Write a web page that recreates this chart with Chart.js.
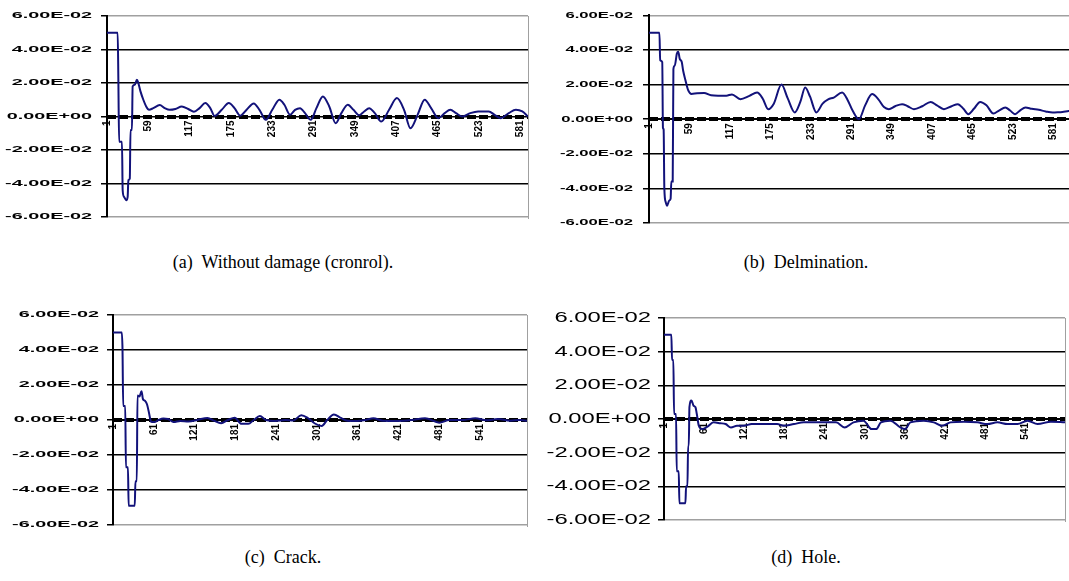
<!DOCTYPE html>
<html><head><meta charset="utf-8">
<script src="https://cdn.jsdelivr.net/npm/chart.js@4/dist/chart.umd.min.js"></script>
<style>
html,body{margin:0;padding:0;background:#fff;width:1069px;height:581px;overflow:hidden;position:relative}
canvas{position:absolute}
.cap{position:absolute;font-family:"Liberation Serif","Times New Roman",serif;font-size:18px;color:#000;white-space:pre;transform:translateX(-50%);line-height:20px}
</style></head><body>
<canvas id="ca" width="540" height="240" style="left:0;top:0"></canvas>
<canvas id="cb" width="545" height="240" style="left:540px;top:0"></canvas>
<canvas id="cc" width="540" height="250" style="left:0;top:290px"></canvas>
<canvas id="cd" width="529" height="250" style="left:540px;top:290px"></canvas>
<div class="cap" style="left:283px;top:252px">(a)  Without damage (cronrol).</div>
<div class="cap" style="left:806px;top:252px">(b)  Delmination.</div>
<div class="cap" style="left:283px;top:547px">(c)  Crack.</div>
<div class="cap" style="left:806px;top:547px">(d)  Hole.</div>
<script>
// ---- tick values and labels ----
const yTickValues = [-0.06, -0.04, -0.02, 0, 0.02, 0.04, 0.06];
const yTickLabels = ['-6.00E-02', '-4.00E-02', '-2.00E-02', '0.00E+00', '2.00E-02', '4.00E-02', '6.00E-02'];
const xTicksAB = [1, 59, 117, 175, 233, 291, 349, 407, 465, 523, 581];
const xTicksCD = [1, 61, 121, 181, 241, 301, 361, 421, 481, 541];

// ---- (a) Without damage ----
const aIdx = [1,16,17,18,22,23,25,28,30,31,33,34,36,37,40,43,45,48,52,56,60,66,75,82,89,97,106,115,123,131,139,146,152,162,172,180,188,197,207,215,224,233,243,250,258,265,272,279,287,295,304,313,322,330,339,347,355,362,369,377,386,397,408,418,427,437,447,456,466,475,483,491,500,511,522,530,537,545,554,565,575,584,592];
const aVal = [0.050,0.050,0.020,-0.015,-0.015,-0.044,-0.048,-0.050,-0.048,-0.038,-0.037,-0.008,-0.008,0.018,0.019,0.022,0.020,0.015,0.010,0.006,0.004,0.005,0.0068,0.005,0.004,0.0045,0.006,0.0045,0.0028,0.005,0.008,0.005,0.0003,0.004,0.008,0.005,0.0005,0.004,0.0078,0.004,-0.002,0.004,0.010,0.007,0.001,0.004,0.005,0.002,-0.002,0.005,0.012,0.006,-0.004,0.002,0.007,0.004,0.0008,0.003,0.005,0.002,-0.003,0.004,0.011,0.004,-0.007,0.001,0.010,0.005,-0.001,0.002,0.004,0.002,0.0,0.002,0.003,0.003,0.003,0.001,-0.001,0.002,0.004,0.003,0.0];

// ---- (b) Delmination ----
const bIdx = [1,16,17,20,21,22,23,25,27,30,32,33,35,36,38,41,43,45,48,50,53,57,62,70,80,90,100,112,120,132,145,156,164,172,180,191,200,210,218,225,232,241,250,258,266,278,286,293,302,311,321,330,338,345,354,364,372,381,393,405,414,424,435,444,452,459,467,476,485,495,503,512,519,526,533,541,550,560,570,580,587,594,603,612];
const bVal = [0.050,0.050,0.034,0.033,-0.005,-0.006,-0.040,-0.048,-0.050,-0.047,-0.046,-0.036,-0.036,0.029,0.031,0.038,0.039,0.035,0.033,0.028,0.023,0.017,0.0146,0.015,0.0152,0.0138,0.0136,0.0136,0.0143,0.0116,0.0135,0.0154,0.012,0.0058,0.009,0.020,0.012,0.0039,0.010,0.0183,0.013,0.0039,0.009,0.0115,0.0125,0.0154,0.011,0.005,0.0,0.008,0.0145,0.0115,0.007,0.0058,0.0075,0.0087,0.0075,0.0058,0.0075,0.010,0.008,0.0058,0.0075,0.0087,0.006,0.0029,0.006,0.010,0.008,0.0033,0.005,0.0068,0.005,0.0029,0.005,0.0068,0.006,0.0054,0.0045,0.0039,0.004,0.0042,0.0048,0.005];

// ---- (c) Crack ----
const cIdx = [1,14,15,16,19,20,23,24,33,34,36,37,40,43,45,48,51,54,57,62,68,75,82,90,100,112,125,140,150,160,170,180,190,200,208,217,226,240,255,266,278,288,298,308,316,326,336,346,360,372,384,398,420,440,460,481,496,515,534,550,567,585,600,610];
const cVal = [0.050,0.050,0.040,0.008,0.008,-0.027,-0.027,-0.049,-0.049,-0.035,-0.035,0.014,0.0135,0.0165,0.012,0.011,0.009,0.004,-0.001,-0.0012,0.0,0.0008,0.0006,-0.0012,-0.0005,-0.0008,0.0,0.0012,-0.0005,-0.0018,0.0,0.0013,-0.0022,-0.0022,0.0,0.0023,0.0,-0.0005,0.0,-0.0003,0.0027,0.001,-0.002,-0.0034,0.0,0.0032,0.0012,-0.0004,-0.0006,0.0,0.001,-0.0004,-0.0005,0.0,0.001,-0.0015,0.0,0.0,0.001,-0.0002,0.0006,-0.0004,0.0,-0.0004];

// ---- (d) Hole ----
const dIdx = [1,12,13,15,16,19,20,23,24,33,34,36,37,38,39,42,45,48,50,53,58,66,75,85,93,101,110,120,132,145,160,170,180,195,210,240,258,271,284,299,311,318,325,339,354,361,369,389,404,416,429,449,469,484,499,514,529,544,559,579,600];
const dVal = [0.050,0.050,0.035,0.035,0.003,0.003,-0.031,-0.031,-0.050,-0.050,-0.040,-0.040,-0.016,-0.016,0.007,0.011,0.008,0.007,0.003,-0.004,-0.006,-0.0045,-0.002,-0.0025,-0.003,-0.005,-0.004,-0.004,-0.003,-0.003,-0.003,-0.003,-0.004,-0.003,-0.002,-0.002,-0.002,-0.005,-0.002,-0.001,-0.006,-0.006,-0.002,-0.001,-0.005,-0.006,-0.002,-0.001,-0.002,-0.004,-0.002,-0.0016,-0.002,-0.003,-0.002,-0.003,-0.003,-0.001,-0.003,-0.0016,-0.002];

const LINE = '#12127a';

// stretches the y tick labels horizontally (the source figure has wide glyphs)
const stretchY = {
  id: 'stretchY',
  beforeDraw(chart, args, opts) {
    const s = chart.scales.y;
    if (!s || s.__stretched) return;
    const orig = s.drawLabels;
    s.drawLabels = function (area) {
      const ctx = this.ctx;
      const tl = this.options.grid.drawTicks ? this.options.grid.tickLength : 0;
      const ax = this.right - tl - this.options.ticks.padding;
      ctx.save();
      ctx.translate(ax, 0); ctx.scale(opts.sx, 1); ctx.translate(-ax, 0);
      orig.call(this, area);
      ctx.restore();
    };
    s.__stretched = true;
  }
};

function build(id, idx, val, xTicks, xMax, g) {
  const pts = idx.map((x, i) => ({ x: x, y: val[i] }));
  return new Chart(document.getElementById(id), {
    type: 'line',
    data: { datasets: [{ data: pts, borderColor: LINE, borderWidth: 2, pointRadius: 0, cubicInterpolationMode: 'monotone', fill: false }] },
    options: {
      responsive: false, animation: false, devicePixelRatio: 1,
      layout: { padding: { left: 0, right: g.padR, top: g.padT, bottom: g.padB } },
      plugins: { legend: { display: false }, tooltip: { enabled: false }, stretchY: { sx: g.sx } },
      scales: {
        x: {
          type: 'linear', min: 1, max: xMax, position: { y: 0 },
          afterBuildTicks: s => { s.ticks = xTicks.map(v => ({ value: v })); },
          ticks: { autoSkip: false, minRotation: 90, maxRotation: 90, padding: 4, color: '#000',
                   font: { family: 'Liberation Sans', weight: 'bold', size: 10 }, callback: v => String(v) },
          grid: { display: false, drawTicks: false },
          border: { display: true, color: '#000', width: 1 }
        },
        y: {
          min: -0.06, max: 0.06, position: 'left',
          afterBuildTicks: s => { s.ticks = yTickValues.map(v => ({ value: v })); },
          afterFit: s => { s.width = g.yW; },
          ticks: { padding: g.pad, color: '#000', font: g.yFont, callback: (v, i) => yTickLabels[i] },
          grid: { color: c => (c.tick && Math.abs(Math.abs(c.tick.value) - 0.06) < 1e-9 ? '#a0a0a0' : '#000'),
                  lineWidth: 1.5, tickLength: 6, tickColor: '#000', tickWidth: 1.5 },
          border: { display: true, color: '#000', width: 2 }
        },
        y2: {
          min: -0.06, max: 0.06, position: 'right',
          afterBuildTicks: s => { s.ticks = [{ value: 0 }]; },
          afterFit: s => { s.width = 0; },
          ticks: { display: false },
          grid: { drawTicks: false, color: '#000', lineWidth: 4 },
          border: { display: true, color: '#a0a0a0', width: 1, dash: [9, 3] }
        }
      }
    },
    plugins: [stretchY]
  });
}

const fontSmall = { family: 'Liberation Sans', weight: 'bold', size: 9 };
const fontD = { family: 'Liberation Sans', weight: 'normal', size: 14 };

build('ca', aIdx, aVal, xTicksAB, 592, { yW: 107, padR: 12, padT: 16, padB: 23, pad: 9, sx: 2.2, yFont: fontSmall });
build('cb', bIdx, bVal, xTicksAB, 612, { yW: 109, padR: 10, padT: 13, padB: 17, pad: 10, sx: 1.85, yFont: fontSmall });
build('cc', cIdx, cVal, xTicksCD, 610, { yW: 113, padR: 13, padT: 25, padB: 15, pad: 8, sx: 2.2, yFont: fontSmall });
build('cd', dIdx, dVal, xTicksCD, 600, { yW: 124, padR: 4, padT: 28, padB: 20, pad: 7, sx: 1.7, yFont: fontD });
</script>
</body></html>
